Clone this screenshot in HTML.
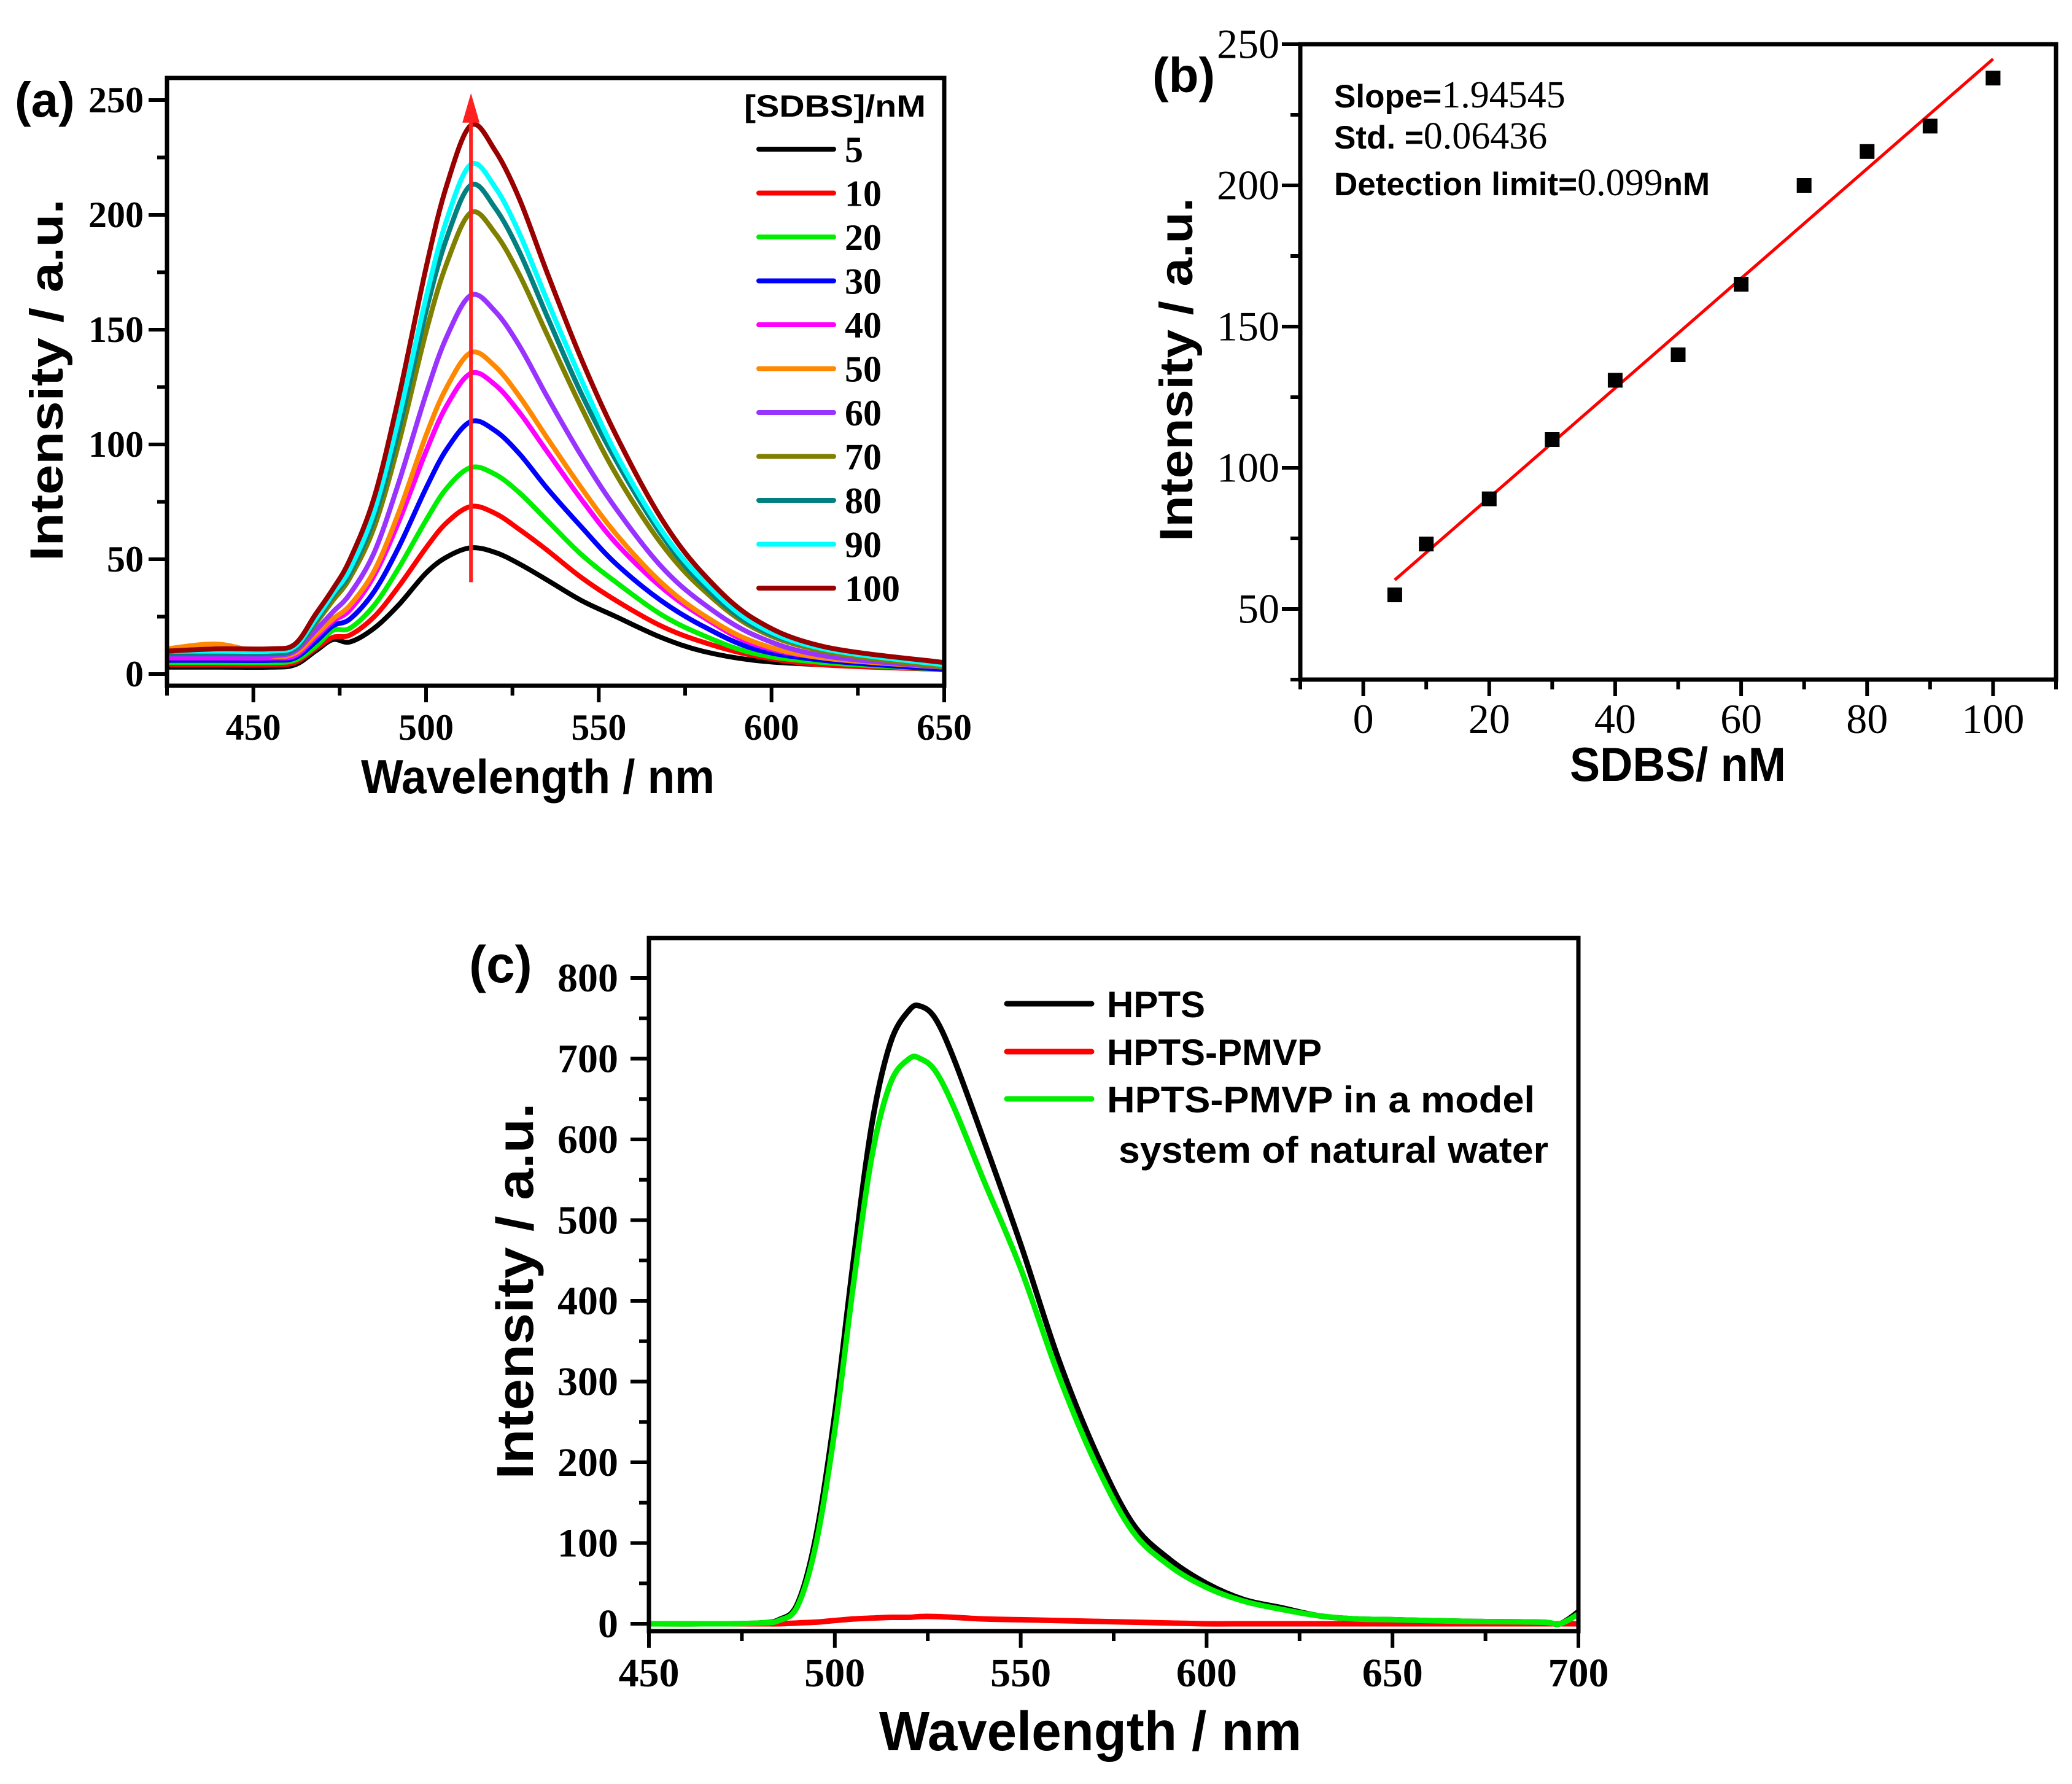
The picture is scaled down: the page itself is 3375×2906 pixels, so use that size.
<!DOCTYPE html>
<html><head><meta charset="utf-8"><style>
html,body{margin:0;padding:0;background:#fff;}
svg{display:block;}
.tb{font-family:"Liberation Serif",serif;font-weight:bold;}
.tn{font-family:"Liberation Serif",serif;}
.sb{font-family:"Liberation Sans",sans-serif;font-weight:bold;}
</style></head><body>
<svg id="fig" width="3375" height="2906" viewBox="0 0 3375 2906" xmlns="http://www.w3.org/2000/svg"></svg>
<script>
// ---------- Panel (a) data ----------
const aWavelengths=[425,440,455,462,468,473,478,485,492,500,506,513,520,527,535,545,555,568,580,595,615,650];
const aConcLabels=["5","10","20","30","40","50","60","70","80","90","100"];
const aColors=["#000000","#ff0000","#00ee00","#0000ff","#ff00ff","#ff8800","#9933ff","#808000","#008080","#00ffff","#990000"];
const aS5=[3,3,3,4,10,15,14,20,30,44,51,55,53,48,41,32,25,16,10,6,4,2];
const aS10=[4,4,4,5,11,16,17,25,38,55,66,73,70,63,54,42,32,21,14,8,4,2];
const aS20=[5,5,5,6,12,19,20,30,46,67,81,90,87,79,67,52,40,26,17,9,5,2];
const aS30=[6,6,6,7,14,21,24,36,55,81,98,110,106,96,81,64,48,32,21,11,6,2];
const aS40=[7,7,7,8,16,23,28,43,66,97,117,131,126,114,97,76,57,38,25,13,7,3];
const aS50=[11,13,8,9,17,24,30,45,70,104,125,140,134,121,103,81,61,40,26,14,7,3];
const aS60=[8,8,8,10,19,27,35,53,83,122,147,165,158,143,121,95,72,47,31,17,8,3];
const aS70=[9,9,9,11,22,32,42,64,100,149,179,201,192,174,148,116,87,57,37,20,10,3];
const aS80=[9,9,9,11,23,34,44,68,106,158,190,213,203,184,156,122,93,61,39,21,11,4];
const aS90=[10,10,10,12,24,35,46,71,111,164,198,222,212,192,163,128,96,63,41,22,11,4];
const aS100=[10,11,11,13,26,37,50,77,120,177,213,239,228,207,175,137,104,68,44,24,12,5];
const aSeries=[aS5,aS10,aS20,aS30,aS40,aS50,aS60,aS70,aS80,aS90,aS100];
const aXTicks=[450,500,550,600,650];
const aYTicks=[0,50,100,150,200,250];
const aArrow=[513,40,253];
// ---------- Panel (b) data ----------
const bConc=[5,10,20,30,40,50,60,70,80,90,100];
const bIntensity=[55,73,89,110,131,140,165,200,212,221,238];
const bXTicks=[0,20,40,60,80,100];
const bYTicks=[50,100,150,200,250];
// ---------- Panel (c) data ----------
const cWavelengths=[450,470,480,485,490,495,500,505,510,515,520,523,527,532,540,550,560,570,580,590,600,610,620,630,640,650,670,690,695,700];
const cHPTS=[0,0,1,5,25,110,260,450,620,720,760,765,750,700,600,470,330,215,125,80,50,30,20,10,6,5,3,2,0,15];
const cPMVP=[0,0,0,0,1,2,4,6,7,8,8,9,9,8,6,5,4,3,2,1,0,0,0,0,0,0,0,0,0,0];
const cModel=[0,0,1,4,22,100,240,420,580,670,700,700,685,640,550,440,310,200,115,72,45,28,18,10,6,5,3,2,0,12];
const cXTicks=[450,500,550,600,650,700];
const cYTicks=[0,100,200,300,400,500,600,700,800];

const NS="http://www.w3.org/2000/svg";
const svg=document.getElementById('fig');
function mk(tag,attrs,parent){const e=document.createElementNS(NS,tag);for(const k in attrs)e.setAttribute(k,attrs[k]);(parent||svg).appendChild(e);return e;}
function txt(s,attrs,cls,parent){const e=mk('text',attrs,parent);e.setAttribute('class',cls);e.textContent=s;return e;}
function scale(d0,d1,r0,r1){return v=>r0+(v-d0)*(r1-r0)/(d1-d0);}
function pathFrom(xs,ys,X,Y){
  const p=xs.map((v,i)=>[X(v),Y(ys[i])]);
  let d='M'+p[0][0].toFixed(1)+' '+p[0][1].toFixed(1);
  for(let i=0;i<p.length-1;i++){
    const p0=p[Math.max(0,i-1)],p1=p[i],p2=p[i+1],p3=p[Math.min(p.length-1,i+2)];
    const c1x=p1[0]+(p2[0]-p0[0])/6,c1y=p1[1]+(p2[1]-p0[1])/6;
    const c2x=p2[0]-(p3[0]-p1[0])/6,c2y=p2[1]-(p3[1]-p1[1])/6;
    d+=' C'+c1x.toFixed(1)+' '+c1y.toFixed(1)+' '+c2x.toFixed(1)+' '+c2y.toFixed(1)+' '+p2[0].toFixed(1)+' '+p2[1].toFixed(1);
  }
  return d;
}

function frame(g,L,R,T,B,name){
  const r=mk('rect',{x:L,y:T,width:R-L,height:B-T,fill:'none',stroke:'#000','stroke-width':7},g);
  
  
}
function xTicks(g,X,B,vals,minor,lblCls,fs,base,name){
  minor.forEach(v=>{const t=mk('line',{x1:X(v),x2:X(v),y1:B,y2:B+16,stroke:'#000','stroke-width':6},g);
    
    });
  vals.forEach(v=>{const t=mk('line',{x1:X(v),x2:X(v),y1:B,y2:B+27,stroke:'#000','stroke-width':6},g);
    
    
    const l=txt(String(v),{x:X(v),y:base,'text-anchor':'middle','font-size':fs},lblCls,g);
    
    });
}
function yTicks(g,Y,L,vals,minor,lblCls,fs,rx,name){
  minor.forEach(v=>{const t=mk('line',{x1:L-16,x2:L,y1:Y(v),y2:Y(v),stroke:'#000','stroke-width':6},g);
    
    });
  vals.forEach(v=>{const t=mk('line',{x1:L-30,x2:L,y1:Y(v),y2:Y(v),stroke:'#000','stroke-width':6},g);
    
    
    const l=txt(String(v),{x:rx,y:Y(v)+fs*0.33,'text-anchor':'end','font-size':fs},lblCls,g);
    
    });
}

// ================= Panel (a) =================
(function(){
  const g=mk('g',{});
  
  
  const L=272,R=1538,T=127,B=1117;
  const X=scale(425,650,L,R), Y=scale(0,250,1098,163);
  const clip=mk('clipPath',{id:'clipA'},g);mk('rect',{x:L,y:T,width:R-L,height:B-T},clip);
  const cg=mk('g',{'clip-path':'url(#clipA)'},g);
  aSeries.forEach((s,i)=>{
    const p=mk('path',{d:pathFrom(aWavelengths,s,X,Y),fill:'none',stroke:aColors[i],'stroke-width':8,'stroke-linejoin':'round'},cg);
    
    
  });
  const ax=X(aArrow[0]);
  const ar=mk('line',{x1:ax,x2:ax,y1:Y(aArrow[1]),y2:Y(aArrow[2])+40,stroke:'#ff2020','stroke-width':6},g);
  
  
  const ah=mk('polygon',{points:`${ax-14},${Y(aArrow[2])+48} ${ax+14},${Y(aArrow[2])+48} ${ax},${Y(aArrow[2])}`,fill:'#ff2020'},g);
  
  
  frame(g,L,R,T,B,'plot-frame-a');
  const minX=[];for(let v=425;v<=650;v+=25)if(aXTicks.indexOf(v)<0)minX.push(v);
  xTicks(g,X,B,aXTicks,minX,'tb',60,1205,'x-axis-a');
  const minY=[25,75,125,175,225];
  yTicks(g,Y,L,aYTicks,minY,'tb',60,234,'y-axis-a');
  const lh=txt('[SDBS]/nM',{x:1212,y:190,'font-size':50,textLength:296,lengthAdjust:'spacingAndGlyphs'},'sb',g);
  
  
  aConcLabels.forEach((c,i)=>{
    const y=243+i*71.5;
    const ln=mk('line',{x1:1236,x2:1358,y1:y,y2:y,stroke:aColors[i],'stroke-width':8,'stroke-linecap':'round'},g);
    
    
    const t=txt(c,{x:1376,y:y+21,'font-size':60},'tb',g);
    
    
  });
  const xt=txt('Wavelength / nm',{x:588,y:1292,'font-size':78,textLength:576,lengthAdjust:'spacingAndGlyphs'},'sb',g);
  
  
  const yt=txt('Intensity / a.u.',{x:0,y:0,'font-size':76,transform:'translate(102,619) rotate(-90)','text-anchor':'middle',textLength:590,lengthAdjust:'spacingAndGlyphs'},'sb',g);
  
  
  const pl=txt('(a)',{x:24,y:190,'font-size':80},'sb',g);
  
  
})();

// ================= Panel (b) =================
(function(){
  const g=mk('g',{});
  
  
  const L=2118,R=3349,T=72,B=1107;
  const X=scale(-10,110,L,R), Y=scale(25,250,B,T);
  const n=bConc.length;let sx=0,sy=0,sxx=0,sxy=0;
  for(let i=0;i<n;i++){sx+=bConc[i];sy+=bIntensity[i];sxx+=bConc[i]*bConc[i];sxy+=bConc[i]*bIntensity[i];}
  const m=(n*sxy-sx*sy)/(n*sxx-sx*sx), c=(sy-m*sx)/n;
  const x0=bConc[0],x1=bConc[n-1];
  const fl=mk('line',{x1:X(x0),y1:Y(m*x0+c),x2:X(x1),y2:Y(m*x1+c),stroke:'#ff0000','stroke-width':5},g);
  
  
  bConc.forEach((v,i)=>{
    const s=mk('rect',{x:X(v)-12,y:Y(bIntensity[i])-12,width:24,height:24,fill:'#000'},g);
    
    
  });
  frame(g,L,R,T,B,'plot-frame-b');
  xTicks(g,X,B,bXTicks,[-10,10,30,50,70,90,110],'tn',68,1194,'x-axis-b');
  yTicks(g,Y,L,bYTicks,[25,75,125,175,225],'tn',68,2084,'y-axis-b');
  const lines=[['Slope=','1.94545',175],['Std. =','0.06436',242],['Detection limit=','0.099',318]];
  lines.forEach((l,i)=>{
    const t=mk('text',{x:2173,y:l[2],'font-size':53},g);
    
    
    const a=mk('tspan',{class:'sb'},t);a.textContent=l[0];
    const b=mk('tspan',{class:'tn','font-size':62},t);b.textContent=l[1];
    if(i===2){const d=mk('tspan',{class:'sb'},t);d.textContent='nM';}
  });
  const xt=txt('SDBS/ nM',{x:2557,y:1272,'font-size':78,textLength:352,lengthAdjust:'spacingAndGlyphs'},'sb',g);
  
  
  const yt=txt('Intensity / a.u.',{x:0,y:0,'font-size':76,transform:'translate(1942,602) rotate(-90)','text-anchor':'middle',textLength:560,lengthAdjust:'spacingAndGlyphs'},'sb',g);
  
  
  const pl=txt('(b)',{x:1877,y:150,'font-size':80},'sb',g);
  
  
})();

// ================= Panel (c) =================
(function(){
  const g=mk('g',{});
  
  
  const L=1057,R=2571,T=1528,B=2657;
  const X=scale(450,700,L,R), Y=scale(0,800,2645,1593);
  const series=[[cHPTS,'#000000','HPTS'],[cPMVP,'#ff0000','HPTS-PMVP'],[cModel,'#00ee00','HPTS-PMVP in a model']];
  series.forEach((s,i)=>{
    const p=mk('path',{d:pathFrom(cWavelengths,s[0],X,Y),fill:'none',stroke:s[1],'stroke-width':9,'stroke-linejoin':'round'},g);
    
    
  });
  frame(g,L,R,T,B,'plot-frame-c');
  xTicks(g,X,B,cXTicks,[475,525,575,625,675],'tb',66,2747,'x-axis-c');
  yTicks(g,Y,L,cYTicks,[50,150,250,350,450,550,650,750],'tb',66,1007,'y-axis-c');
  const ly=[1635,1713,1790];
  series.forEach((s,i)=>{
    const ln=mk('line',{x1:1640,x2:1778,y1:ly[i],y2:ly[i],stroke:s[1],'stroke-width':9,'stroke-linecap':'round'},g);
    
    
    const t=txt(s[2],{x:1803,y:ly[i]+22,'font-size':60},'sb',g);
    if(i===2){t.setAttribute('textLength',697);t.setAttribute('lengthAdjust','spacingAndGlyphs');}
    
    
  });
  const t4=txt('system of natural water',{x:1822,y:1894,'font-size':60,textLength:700,lengthAdjust:'spacingAndGlyphs'},'sb',g);
  
  
  const xt=txt('Wavelength / nm',{x:1432,y:2851,'font-size':90,textLength:688,lengthAdjust:'spacingAndGlyphs'},'sb',g);
  
  
  const yt=txt('Intensity / a.u.',{x:0,y:0,'font-size':84,transform:'translate(868,2103) rotate(-90)','text-anchor':'middle',textLength:613,lengthAdjust:'spacingAndGlyphs'},'sb',g);
  
  
  const pl=txt('(c)',{x:764,y:1600,'font-size':84},'sb',g);
  
  
})();
</script>
</body></html>
